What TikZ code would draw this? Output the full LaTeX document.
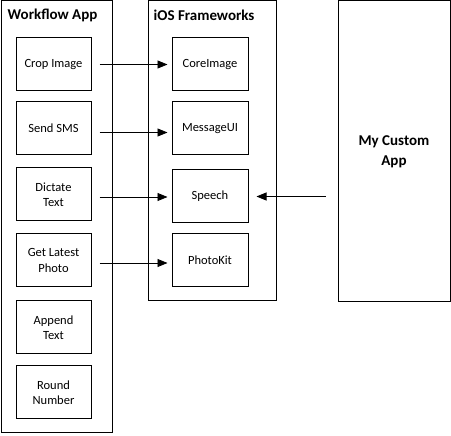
\documentclass[tikz,border=0pt]{standalone}
\usepackage{fontspec}
\setmainfont{Carlito}
\usetikzlibrary{arrows.meta,positioning,calc}

\tikzset{
  panel/.style={draw, line width=1pt, inner sep=0pt},
  fnbox/.style={draw, line width=1pt, minimum width=75pt, minimum height=53pt,
                align=center, font=\fontsize{12.5}{15.5}\selectfont},
  paneltitle/.style={anchor=west, inner sep=0pt, font=\fontsize{15}{18}\selectfont\bfseries},
  flow/.style={-{Triangle[length=10pt,width=8pt]}, line width=0.8pt}
}

\begin{document}
\begin{tikzpicture}[x=1pt, y=-1pt]
\useasboundingbox (0,0) rectangle (451,436);
% three columns
\node[panel, minimum width=111pt, minimum height=432pt] (wf) at (56.5,217) {};
\node[panel, minimum width=128pt, minimum height=300pt] (ios) at (212,151) {};
\node[panel, minimum width=112pt, minimum height=301pt, align=center,
      font=\fontsize{15}{20}\selectfont\bfseries] (custom) at (394,151.5) {My Custom\\App};
\node[paneltitle] (wftitle) at ([xshift=7pt, yshift=-15pt]wf.north west) {Workflow App};
\node[paneltitle] (iostitle) at ([xshift=6pt, yshift=-15pt]ios.north west) {iOS Frameworks};
% workflow actions
\node[fnbox] (crop)   at (53.5,64.5)  {Crop Image};
\node[fnbox] (sms)    at (53.5,128.5) {Send SMS};
\node[fnbox] (dict)   at (53.5,194.5) {Dictate\\Text};
\node[fnbox] (photo)  at (53.5,260.5) {Get Latest\\Photo};
\node[fnbox] (append) at (53.5,327.5) {Append\\Text};
\node[fnbox] (round)  at (53.5,392.5) {Round\\Number};
% frameworks
\node[fnbox, minimum width=76pt] (core)   at (210,64.5)  {CoreImage};
\node[fnbox, minimum width=76pt] (msgui)  at (210,128.5) {MessageUI};
\node[fnbox, minimum width=76pt] (speech) at (210,196.5) {Speech};
\node[fnbox, minimum width=76pt] (kit)    at (210,260.5) {PhotoKit};
% calls
\draw[flow, shorten <=8pt, shorten >=4pt] (crop.east) -- (crop.east -| core.west);
\draw[flow, shorten <=8pt, shorten >=4pt] ([yshift=-4pt]sms.east) -- ([yshift=-4pt]sms.east -| msgui.west);
\draw[flow, shorten <=8pt, shorten >=4pt] ([yshift=-2.5pt]dict.east) -- ([yshift=-2.5pt]dict.east -| speech.west);
\draw[flow, shorten <=8pt, shorten >=4pt] ([yshift=-2.5pt]photo.east) -- ([yshift=-2.5pt]photo.east -| kit.west);
\draw[flow, shorten <=12pt, shorten >=8pt] (custom.west |- speech.east) -- (speech.east);
\end{tikzpicture}
\end{document}
